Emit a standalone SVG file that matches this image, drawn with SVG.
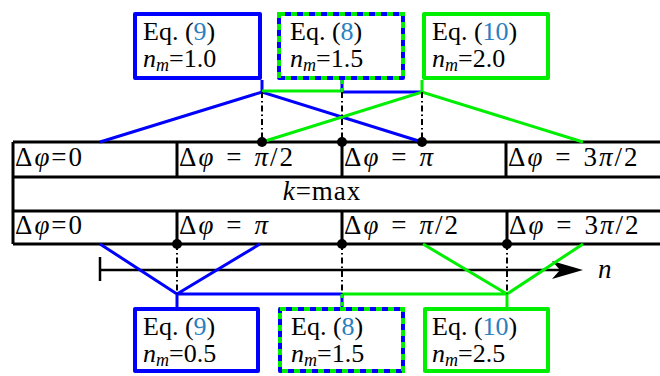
<svg xmlns="http://www.w3.org/2000/svg" width="660" height="376" viewBox="0 0 660 376">
<style>
text{font-family:"Liberation Serif",serif;font-size:27px;fill:#000}
.bx{font-size:26px}
.tx{letter-spacing:2px}
.i{font-style:italic}
.sub{font-style:italic;font-size:18px}
.ref{fill:#2a7fc0}
.box{fill:#fff;stroke-width:4;stroke-linejoin:round}
.blue{stroke:#0000ff}
.green{stroke:#00ee00}
.cb{stroke:#0000ff;stroke-width:3;fill:none}
.cg{stroke:#00ee00;stroke-width:3;fill:none}
.dd{stroke:#000;stroke-width:2;stroke-dasharray:6 3 1.5 3;fill:none}
.tab{stroke:#000;stroke-width:3;fill:none}
.dash{fill:none;stroke:#00ee00;stroke-width:4;stroke-dasharray:6 6}
</style>
<rect width="660" height="376" fill="#fff"/>

<g id="table">
<path class="tab" d="M13,142H660M13,177H660M13,211H660M13,244H660M13,142V244M177,142V177M342,142V177M506,142V177M177,211V244M342,211V244M507,211V244"/>
<text class="tx" x="15" y="166">Δ<tspan class="i">φ</tspan>=0</text>
<text class="tx" x="179" y="166">Δ<tspan class="i">φ</tspan><tspan dx="11">=</tspan><tspan class="i" dx="11">π</tspan>/2</text>
<text class="tx" x="344" y="166">Δ<tspan class="i">φ</tspan><tspan dx="11">=</tspan><tspan class="i" dx="11">π</tspan></text>
<text class="tx" x="508" y="166">Δ<tspan class="i">φ</tspan><tspan dx="11">=</tspan><tspan dx="11">3</tspan><tspan class="i">π</tspan>/2</text>
<text x="322" y="200" text-anchor="middle" letter-spacing="1"><tspan class="i">k</tspan>=max</text>
<text class="tx" x="15" y="234">Δ<tspan class="i">φ</tspan>=0</text>
<text class="tx" x="179" y="234">Δ<tspan class="i">φ</tspan><tspan dx="11">=</tspan><tspan class="i" dx="11">π</tspan></text>
<text class="tx" x="344" y="234">Δ<tspan class="i">φ</tspan><tspan dx="11">=</tspan><tspan class="i" dx="11">π</tspan>/2</text>
<text class="tx" x="509" y="234">Δ<tspan class="i">φ</tspan><tspan dx="11">=</tspan><tspan dx="11">3</tspan><tspan class="i">π</tspan>/2</text>
</g>

<g id="axis">
<path d="M100,257V281" stroke="#000" stroke-width="2.5"/>
<path d="M100,270H574" stroke="#000" stroke-width="2.5"/>
<path d="M583,270L552,261L560,270L552,279Z" fill="#000"/>
<text class="i" x="598" y="278">n</text>
</g>

<g id="connectors">
<path class="cb" d="M262,80V92M100,142L262,92L422,142M342,92H422"/>
<path class="cg" d="M422,80V92M262,142L422,92L583,142M262,91H342"/>
<path d="M342,80V92" stroke="#0000ff" stroke-width="3"/>
<path d="M342,80V92" stroke="#00ee00" stroke-width="3" stroke-dasharray="4 4"/>
<path class="dd" d="M262,92V142M342,92V142M422,92V142"/>
<path class="cb" d="M100,244L177,294L260,244M177,294V307M177,294H342"/>
<path class="cg" d="M423,244L507,294L583,244M507,294V307M342,294H507"/>
<path d="M342,294V307" stroke="#0000ff" stroke-width="3"/>
<path d="M342,294V307" stroke="#00ee00" stroke-width="3" stroke-dasharray="4 4"/>
<path class="dd" d="M177,244V294M342,244V294M507,244V294"/>
<g fill="#000">
<circle cx="262" cy="142" r="5"/><circle cx="342" cy="142" r="5"/><circle cx="422" cy="142" r="5"/>
<circle cx="177" cy="244" r="5"/><circle cx="342" cy="244" r="5"/><circle cx="507" cy="244" r="5"/>
</g>
</g>

<g id="top-eq9">
<rect class="box blue" x="135" y="14" width="125" height="64"/>
<text class="bx" x="143" y="40">Eq. (<tspan class="ref">9</tspan>)</text>
<text class="bx" x="143" y="67"><tspan class="i">n</tspan><tspan class="sub" dy="4">m</tspan><tspan dy="-4">=1.0</tspan></text>
</g>
<g id="top-eq8">
<rect class="box blue" x="279" y="14" width="124" height="64"/>
<rect class="dash" x="279" y="14" width="124" height="64"/>
<text class="bx" x="290" y="40">Eq. (<tspan class="ref">8</tspan>)</text>
<text class="bx" x="290" y="67"><tspan class="i">n</tspan><tspan class="sub" dy="4">m</tspan><tspan dy="-4">=1.5</tspan></text>
</g>
<g id="top-eq10">
<rect class="box green" x="424" y="14" width="124" height="64"/>
<text class="bx" x="432" y="40">Eq. (<tspan class="ref">10</tspan>)</text>
<text class="bx" x="432" y="67"><tspan class="i">n</tspan><tspan class="sub" dy="4">m</tspan><tspan dy="-4">=2.0</tspan></text>
</g>

<g id="bot-eq9">
<rect class="box blue" x="135" y="309" width="123" height="62"/>
<text class="bx" x="143" y="335">Eq. (<tspan class="ref">9</tspan>)</text>
<text class="bx" x="143" y="362"><tspan class="i">n</tspan><tspan class="sub" dy="4">m</tspan><tspan dy="-4">=0.5</tspan></text>
</g>
<g id="bot-eq8">
<rect class="box blue" x="280" y="309" width="123" height="62"/>
<rect class="dash" x="280" y="309" width="123" height="62"/>
<text class="bx" x="291" y="335">Eq. (<tspan class="ref">8</tspan>)</text>
<text class="bx" x="291" y="362"><tspan class="i">n</tspan><tspan class="sub" dy="4">m</tspan><tspan dy="-4">=1.5</tspan></text>
</g>
<g id="bot-eq10">
<rect class="box green" x="425" y="309" width="123" height="62"/>
<text class="bx" x="432" y="335">Eq. (<tspan class="ref">10</tspan>)</text>
<text class="bx" x="432" y="362"><tspan class="i">n</tspan><tspan class="sub" dy="4">m</tspan><tspan dy="-4">=2.5</tspan></text>
</g>
</svg>
